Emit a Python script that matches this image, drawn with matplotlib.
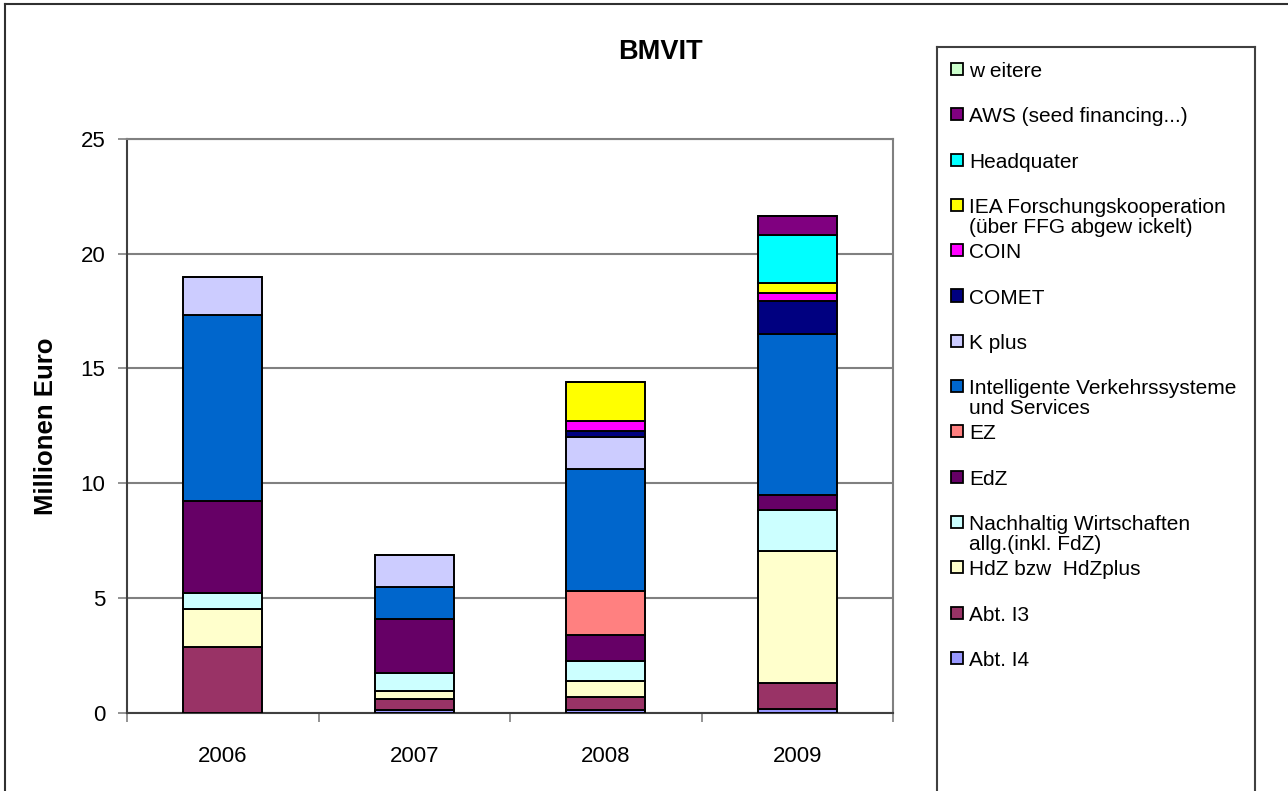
import matplotlib.pyplot as plt
import matplotlib.patches as mpatches
from matplotlib.lines import Line2D
import numpy as np

plt.rcParams['font.family'] = ['Liberation Sans', 'DejaVu Sans']

years = ['2006', '2007', '2008', '2009']

# series from bottom to top of the stack (Millionen Euro)
abt_i4 = [0.0, 0.10, 0.12, 0.16]
abt_i3 = [2.85, 0.51, 0.58, 1.12]
hdz = [1.68, 0.32, 0.68, 5.76]
nachhaltig = [0.69, 0.79, 0.88, 1.81]
edz = [4.01, 2.36, 1.12, 0.63]
ez = [0.0, 0.0, 1.92, 0.0]
ivs = [8.08, 1.38, 5.31, 7.04]
kplus = [1.67, 1.41, 1.41, 0.0]
comet = [0.0, 0.0, 0.26, 1.42]
coin = [0.0, 0.0, 0.43, 0.34]
iea = [0.0, 0.0, 1.70, 0.44]
headquater = [0.0, 0.0, 0.0, 2.08]
aws = [0.0, 0.0, 0.0, 0.85]
weitere = [0.0, 0.0, 0.0, 0.0]

series = [abt_i4, abt_i3, hdz, nachhaltig, edz, ez, ivs, kplus,
          comet, coin, iea, headquater, aws, weitere]
labels = ['Abt. I4', 'Abt. I3', 'HdZ bzw  HdZplus',
          'Nachhaltig Wirtschaften\nallg.(inkl. FdZ)', 'EdZ', 'EZ',
          'Intelligente Verkehrssysteme\nund Services', 'K plus', 'COMET',
          'COIN', 'IEA Forschungskooperation\n(über FFG abgew ickelt)',
          'Headquater', 'AWS (seed financing...)', 'w eitere']
colors = ['#9999FF', '#993366', '#FFFFCC', '#CCFFFF', '#660066', '#FF8080',
          '#0066CC', '#CCCCFF', '#000080', '#FF00FF', '#FFFF00', '#00FFFF',
          '#800080', '#CCFFCC']

W, H = 1288, 791
fig = plt.figure(figsize=(W / 100, H / 100), dpi=100)

# outer chart frame (left and top edges visible)
fig.add_artist(Line2D([5 / W, 5 / W], [0, 1 - 4 / H], color='#303030', lw=1.5))
fig.add_artist(Line2D([5 / W, 1], [1 - 4 / H, 1 - 4 / H], color='#303030', lw=1.5))

ax = fig.add_axes([127 / W, (H - 712.7) / H, (893 - 127) / W, (712.7 - 139) / H])
x = np.arange(len(years))
bottom = np.zeros(len(years))
for vals, lab, col in zip(series, labels, colors):
    ax.bar(x, vals, width=0.41, bottom=bottom, color=col, edgecolor='black',
           linewidth=1.4, label=lab, zorder=3)
    bottom += np.array(vals)

ax.set_xlim(-0.5, 3.5)
ax.set_ylim(0, 25)
ax.set_yticks([0, 5, 10, 15, 20, 25])
ax.yaxis.grid(True, color='#808080', lw=1.5, zorder=0)
for s in ax.spines.values():
    s.set_color('#808080')
    s.set_linewidth(1.5)
ax.spines['left'].set_color('#404040')
ax.spines['bottom'].set_color('#404040')
ax.set_xticks(x)
ax.set_xticklabels(years)
ax.set_xticks(np.arange(-0.5, 4, 1), minor=True)
ax.tick_params(axis='x', which='major', length=0, pad=24, labelsize=16)
ax.tick_params(axis='x', which='minor', length=6.5, width=1.2, color='#808080')
ax.tick_params(axis='y', length=6.5, width=1.2, color='#808080', pad=9, labelsize=16)
ax.set_ylabel('Millionen Euro', fontsize=18.5, fontweight='bold')
ax.yaxis.set_label_coords((58 - 127) / (893 - 127), 0.5)

fig.text(660 / W, 1 - 52 / H, 'BMVIT', fontsize=19.5, fontweight='bold',
         ha='center', va='center')

# legend box
lx0, lx1, ly0 = 937, 1255, 47
fig.add_artist(Line2D([lx0 / W, lx0 / W], [0, 1 - ly0 / H], color='#404040', lw=1.5))
fig.add_artist(Line2D([lx1 / W, lx1 / W], [0, 1 - ly0 / H], color='#404040', lw=1.5))
fig.add_artist(Line2D([lx0 / W, lx1 / W], [1 - ly0 / H, 1 - ly0 / H], color='#404040', lw=1.5))

for i, (lab, col) in enumerate(zip(labels[::-1], colors[::-1])):
    yc = 69 + 45.3 * i
    fig.add_artist(mpatches.Rectangle((950.5 / W, 1 - (yc + 6) / H), 12 / W, 12 / H,
                                      transform=fig.transFigure, facecolor=col,
                                      edgecolor='black', lw=1.3))
    fig.text(969 / W, 1 - (yc - 7) / H, lab, fontsize=15, ha='left', va='top',
             linespacing=1.05)

fig.savefig('out.png', dpi=100)
